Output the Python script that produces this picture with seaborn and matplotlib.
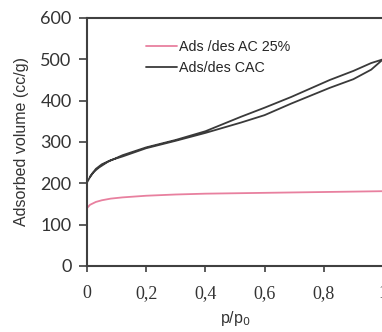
import matplotlib
matplotlib.use("Agg")
import matplotlib.pyplot as plt
import seaborn as sns
import pandas as pd
import numpy as np

# Ads/des CAC: adsorption branch then desorption branch
cac_p = [0.0, 0.01, 0.03, 0.05, 0.08, 0.12, 0.2, 0.3, 0.4, 0.52, 0.6, 0.69, 0.82, 0.9, 0.96, 1.0,
         0.96, 0.9, 0.82, 0.69, 0.6, 0.52, 0.4, 0.3, 0.2, 0.12, 0.07, 0.04, 0.02, 0.01]
cac_v = [202, 215, 235, 246, 256, 265, 285, 303, 322, 347, 365, 393, 431, 452, 475, 500,
         491, 472, 450, 409, 383, 361, 326, 305, 287, 268, 252, 238, 226, 216]

# Ads /des AC 25%
ac_p = [0.0, 0.01, 0.03, 0.05, 0.08, 0.12, 0.2, 0.3, 0.4, 0.5, 0.6, 0.7, 0.8, 0.9, 1.0]
ac_v = [140, 148, 155, 159, 163, 166, 170, 173, 175, 176, 177, 178, 179, 180, 181]

labels = ["Ads /des AC 25%", "Ads/des CAC"]
xticks = [0, 0.2, 0.4, 0.6, 0.8, 1.0]
xticklabels = ["0", "0,2", "0,4", "0,6", "0,8", "1"]
yticks = [0, 100, 200, 300, 400, 500, 600]

sns.set_style("white")
fig = plt.figure(figsize=(3.82, 3.32), dpi=100)
ax = fig.add_axes([87/382, (332-266)/332, (383-87)/382, (266-18)/332])

df_ac = pd.DataFrame({"p": ac_p, "v": ac_v})
df_cac = pd.DataFrame({"p": cac_p, "v": cac_v})

sns.lineplot(data=df_ac, x="p", y="v", sort=False, estimator=None, ax=ax,
             color="#e8809f", lw=1.3, label=labels[0])
sns.lineplot(data=df_cac, x="p", y="v", sort=False, estimator=None, ax=ax,
             color="#3a3a3a", lw=1.3, label=labels[1])

ax.set_xlim(0, 1)
ax.set_ylim(0, 600)
ax.set_xticks(xticks)
ax.set_xticklabels(xticklabels, fontfamily="Liberation Serif", fontsize=13, color="#333333")
ax.set_yticks(yticks)
ax.set_yticklabels([str(t) for t in yticks], fontfamily="Lato", fontsize=13, color="#333333")
ax.tick_params(axis="y", direction="out", length=6, width=1.2, color="#404040", pad=5, left=True)
ax.tick_params(axis="x", direction="out", length=4, width=1.2, color="#404040", pad=10, bottom=True)

for s in ["left", "bottom", "top", "right"]:
    ax.spines[s].set_color("#404040")
    ax.spines[s].set_linewidth(1.5)

ax.set_xlabel("p/p$_0$", fontfamily="Liberation Sans", fontsize=11.5, color="#333333", labelpad=5)
ax.set_ylabel("Adsorbed volume (cc/g)", fontfamily="Liberation Sans", fontsize=11.5,
              color="#333333", labelpad=8)

leg = ax.legend(loc="upper left", bbox_to_anchor=(0.18, 0.935), frameon=False,
                prop={"family": "Liberation Sans", "size": 10.3},
                handlelength=2.2, handletextpad=0.1, labelspacing=0.5, borderaxespad=0)

fig.savefig("out.png", dpi=100)
